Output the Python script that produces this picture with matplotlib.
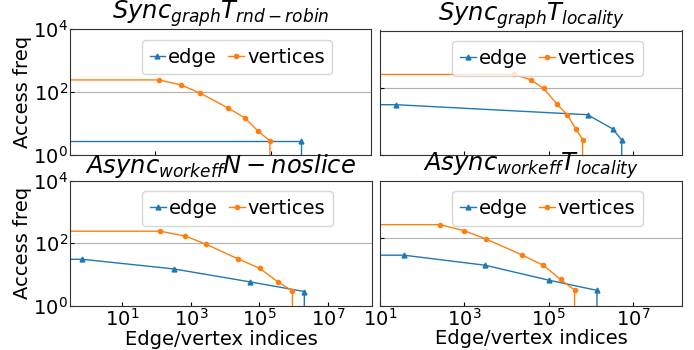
import matplotlib
matplotlib.use('Agg')
import matplotlib.pyplot as plt
from matplotlib.ticker import NullLocator, FixedLocator

titles = [r'$Sync_{graph}T_{rnd-robin}$', r'$Sync_{graph}T_{locality}$',
          r'$Async_{workeff}N-noslice$', r'$Async_{workeff}T_{locality}$']

# top-left
tl_edge_x = [0, 1.08e6, 1.08e6]
tl_edge_y = [2.8, 2.8, 0]
tl_vert_x = [0, 13.7, 78.8, 357, 3290, 12700, 35600, 92400, 92400]
tl_vert_y = [245, 245, 170, 94, 31.4, 15, 5.8, 2.8, 0]
# top-right
tr_edge_x = [0, 24.3, 832000, 3.3e6, 5.37e6, 5.37e6]
tr_edge_y = [31.8, 31.8, 16, 6.0, 2.8, 0]
tr_vert_x = [0, 15100, 37000, 75300, 159000, 275000, 441000, 635000, 635000]
tr_vert_y = [255, 255, 178, 98, 32.7, 16, 6.0, 2.9, 0]
# bottom-left
bl_edge_x = [0, 0.69, 316, 51600, 2.03e6, 2.03e6]
bl_edge_y = [30.4, 30.4, 15, 5.8, 2.84, 0]
bl_vert_x = [0, 129, 695, 2730, 24150, 101400, 340000, 916000, 916000]
bl_vert_y = [240, 240, 167, 93, 31, 15.7, 5.9, 2.93, 0]
# bottom-right
br_edge_x = [0, 37, 3100, 98900, 1.39e6, 1.39e6]
br_edge_y = [31.4, 31.4, 15.8, 5.7, 2.82, 0]
br_vert_x = [0, 265, 984, 3270, 23900, 74000, 190500, 410000, 410000]
br_vert_y = [255, 255, 169, 95, 31.4, 15.8, 6.0, 2.88, 0]

panels = [
    (tl_edge_x, tl_edge_y, tl_vert_x, tl_vert_y),
    (tr_edge_x, tr_edge_y, tr_vert_x, tr_vert_y),
    (bl_edge_x, bl_edge_y, bl_vert_x, bl_vert_y),
    (br_edge_x, br_edge_y, br_vert_x, br_vert_y),
]

W, H = 694, 350
fig = plt.figure(figsize=(W / 100, H / 100), dpi=100)

def rect(x0, y0, x1, y1):
    return [x0 / W, 1 - y1 / H, (x1 - x0) / W, (y1 - y0) / H]

rects = [rect(70, 29.3, 371, 155), rect(380, 30.5, 682, 155),
         rect(70, 180.5, 372, 305.7), rect(380, 180.5, 682, 305.5)]
xlims = [(10 ** -1.93, 10 ** 8.45), (10, 10 ** 8.16),
         (10 ** -0.52, 10 ** 8.28), (10, 10 ** 8.16)]
xticks = [[1e1, 1e5], [1e1, 1e3, 1e5, 1e7],
          [1e1, 1e3, 1e5, 1e7], [1e1, 1e3, 1e5, 1e7]]
ylims = [(1, 1e4), (1, 10 ** 3.72), (1, 1e4), (1, 10 ** 3.72)]

FS = 14
for i, (ex, ey, vx, vy) in enumerate(panels):
    ax = fig.add_axes(rects[i])
    ax.plot(ex, ey, marker='^', ms=3.5, lw=1, color='tab:blue', label='edge')
    ax.plot(vx, vy, marker='o', ms=3, lw=1, color='tab:orange', label='vertices')
    ax.set_xscale('log')
    ax.set_yscale('log')
    ax.set_xlim(*xlims[i])
    ax.set_ylim(*ylims[i])
    ax.xaxis.set_major_locator(FixedLocator(xticks[i]))
    ax.yaxis.set_major_locator(FixedLocator([1, 1e2, 1e4]))
    ax.xaxis.set_minor_locator(NullLocator())
    ax.yaxis.set_minor_locator(NullLocator())
    ax.yaxis.grid(True, color='#b0b0b0', lw=0.8)
    ax.tick_params(labelsize=FS, direction='in', length=3, pad=1.5)
    for s in ax.spines.values():
        s.set_color('#333333')
    ax.set_title(titles[i], fontsize=17.5, pad=4)
    if i < 2:
        ax.tick_params(axis='x', labelbottom=False)
    else:
        ax.set_xlabel('Edge/vertex indices', fontsize=FS, labelpad=0)
    if i % 2 == 1:
        ax.tick_params(axis='y', labelleft=False)
    else:
        ax.set_ylabel('Access freq', fontsize=FS, labelpad=1)
    ax.legend(loc='upper center', bbox_to_anchor=(0.555, 0.916), borderaxespad=0,
              ncol=2, fontsize=14, handlelength=0.8, handletextpad=0.15,
              columnspacing=0.6, borderpad=0.4)

fig.savefig('out.png', dpi=100)
